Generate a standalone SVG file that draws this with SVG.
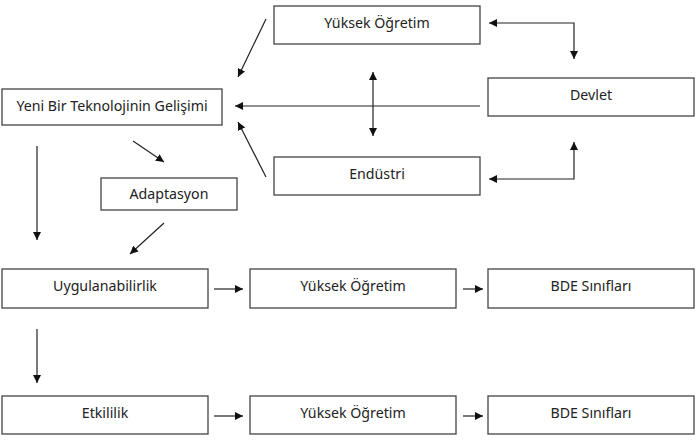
<svg xmlns="http://www.w3.org/2000/svg" width="699" height="446" viewBox="0 0 699 446">
<style>
.box{fill:#fff;stroke:#444;stroke-width:1.3}
.lbl{font-family:"Noto Sans","Open Sans",sans-serif;font-size:14.2px;fill:#222;text-anchor:middle}
.ln{stroke:#222;stroke-width:1.2;fill:none}
</style>
<defs>
<marker id="ah" viewBox="0 0 10 10" refX="10" refY="5" markerWidth="8" markerHeight="8" markerUnits="userSpaceOnUse" orient="auto-start-reverse">
<path d="M0,0 L10,5 L0,10 z" fill="#111"/>
</marker>
</defs>
<rect width="699" height="446" fill="#fff"/>
<g id="n-yuksek-top"><rect class="box" x="274" y="6" width="206" height="38"/><text class="lbl" x="377" y="28">Yüksek Öğretim</text></g>
<g id="n-yeni"><rect class="box" x="2" y="89" width="220" height="36"/><text class="lbl" x="112" y="111">Yeni Bir Teknolojinin Gelişimi</text></g>
<g id="n-devlet"><rect class="box" x="488" y="78" width="206" height="38"/><text class="lbl" x="591" y="100">Devlet</text></g>
<g id="n-endustri"><rect class="box" x="274" y="157" width="206" height="38"/><text class="lbl" x="377" y="179">Endüstri</text></g>
<g id="n-adaptasyon"><rect class="box" x="101" y="178" width="136" height="32"/><text class="lbl" x="169" y="199">Adaptasyon</text></g>
<g id="n-uyg"><rect class="box" x="2" y="269" width="206" height="39"/><text class="lbl" x="105" y="291">Uygulanabilirlik</text></g>
<g id="n-yuksek2"><rect class="box" x="250" y="269" width="206" height="39"/><text class="lbl" x="353" y="291">Yüksek Öğretim</text></g>
<g id="n-bde2"><rect class="box" x="488" y="269" width="206" height="39"/><text class="lbl" x="591" y="291">BDE Sınıfları</text></g>
<g id="n-etk"><rect class="box" x="2" y="396" width="206" height="38"/><text class="lbl" x="105" y="418">Etkililik</text></g>
<g id="n-yuksek3"><rect class="box" x="250" y="396" width="206" height="38"/><text class="lbl" x="353" y="418">Yüksek Öğretim</text></g>
<g id="n-bde3"><rect class="box" x="488" y="396" width="206" height="38"/><text class="lbl" x="591" y="418">BDE Sınıfları</text></g>
<g id="connectors">
<line class="ln" x1="266" y1="19" x2="238" y2="77" marker-end="url(#ah)"/>
<line class="ln" x1="480" y1="106" x2="235" y2="106" marker-end="url(#ah)"/>
<line class="ln" x1="266" y1="177" x2="238" y2="122" marker-end="url(#ah)"/>
<line class="ln" x1="373" y1="72" x2="373" y2="136" marker-start="url(#ah)" marker-end="url(#ah)"/>
<polyline class="ln" points="489,23 574,23 574,59" marker-start="url(#ah)" marker-end="url(#ah)"/>
<polyline class="ln" points="489,179 574,179 574,142" marker-start="url(#ah)" marker-end="url(#ah)"/>
<line class="ln" x1="37" y1="146" x2="37" y2="240" marker-end="url(#ah)"/>
<line class="ln" x1="133" y1="141" x2="164" y2="162" marker-end="url(#ah)"/>
<line class="ln" x1="164" y1="223" x2="130" y2="254" marker-end="url(#ah)"/>
<line class="ln" x1="214" y1="289" x2="243" y2="289" marker-end="url(#ah)"/>
<line class="ln" x1="463" y1="289" x2="483" y2="289" marker-end="url(#ah)"/>
<line class="ln" x1="37" y1="329" x2="37" y2="383" marker-end="url(#ah)"/>
<line class="ln" x1="214" y1="416" x2="243" y2="416" marker-end="url(#ah)"/>
<line class="ln" x1="463" y1="416" x2="483" y2="416" marker-end="url(#ah)"/>
</g>
</svg>
